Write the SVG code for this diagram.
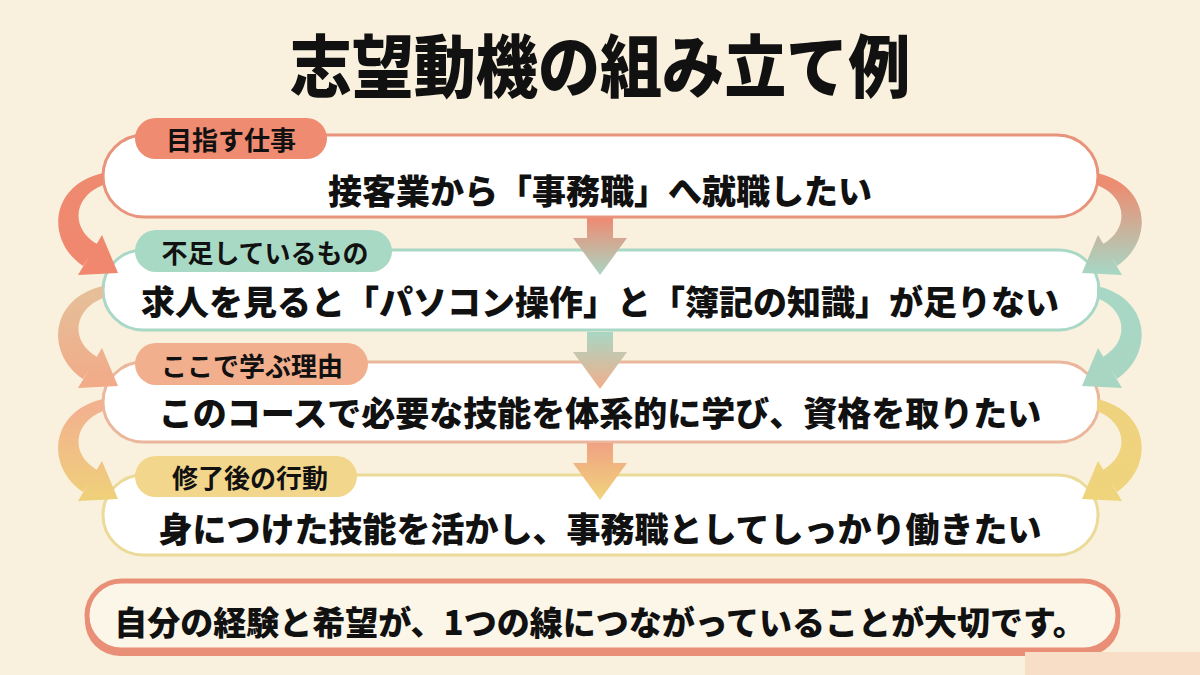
<svg xmlns="http://www.w3.org/2000/svg" width="1200" height="675" viewBox="0 0 1200 675">
<defs>
<style>
text{font-family:"Noto Sans CJK JP","Noto Sans",sans-serif;fill:#111;font-weight:700;dominant-baseline:central}
.title{font-size:64px;font-weight:900;text-anchor:middle}
.main{font-size:34px;font-weight:900;text-anchor:middle}
.lab{font-size:26px;text-anchor:middle}
.foot{font-size:33px;font-weight:900;text-anchor:middle}
.box{fill:#FFFFFF;stroke-width:3}
</style>
<linearGradient id="gC1" gradientUnits="userSpaceOnUse" x1="0" y1="0" x2="0" y2="57"><stop offset="0" stop-color="#EF8A72"/><stop offset="1" stop-color="#A8D6C3"/></linearGradient>
<linearGradient id="gC2" gradientUnits="userSpaceOnUse" x1="0" y1="0" x2="0" y2="57"><stop offset="0" stop-color="#A8D6C3"/><stop offset="1" stop-color="#F1AE8A"/></linearGradient>
<linearGradient id="gC3" gradientUnits="userSpaceOnUse" x1="0" y1="0" x2="0" y2="57"><stop offset="0" stop-color="#F0A283"/><stop offset="1" stop-color="#F0D47C"/></linearGradient>
<linearGradient id="gR1" gradientUnits="userSpaceOnUse" x1="0" y1="185" x2="0" y2="272"><stop offset="0" stop-color="#EC8D72"/><stop offset="1" stop-color="#A8D6C3"/></linearGradient>
<linearGradient id="gR2" gradientUnits="userSpaceOnUse" x1="0" y1="185" x2="0" y2="272"><stop offset="0" stop-color="#A9D7C5"/><stop offset="1" stop-color="#A8D6C3"/></linearGradient>
<linearGradient id="gR3" gradientUnits="userSpaceOnUse" x1="0" y1="185" x2="0" y2="272"><stop offset="0" stop-color="#EFD27E"/><stop offset="1" stop-color="#EFD47C"/></linearGradient>
<linearGradient id="gL1" gradientUnits="userSpaceOnUse" x1="0" y1="185" x2="0" y2="272"><stop offset="0" stop-color="#EE8A70"/><stop offset="1" stop-color="#F0876E"/></linearGradient>
<linearGradient id="gL2" gradientUnits="userSpaceOnUse" x1="0" y1="185" x2="0" y2="272"><stop offset="0" stop-color="#E6BE98"/><stop offset="1" stop-color="#F2AA88"/></linearGradient>
<linearGradient id="gL3" gradientUnits="userSpaceOnUse" x1="0" y1="185" x2="0" y2="272"><stop offset="0" stop-color="#F2B28E"/><stop offset="1" stop-color="#EFD07A"/></linearGradient>
<path id="rArrow" d="M1097,173 C1150,185 1155,240 1117,266 L1103,244 C1130,228 1127,197 1097,185 Z M1098,235 L1122,275 L1082,273 Z"/>
<path id="lArrow" d="M103,173 C50,185 45,240 83,266 L97,244 C70,228 73,197 103,185 Z M102,235 L78,275 L118,273 Z"/>
<path id="cArrow" d="M587,0 L613,0 L613,20 L627,20 L600,57 L573,20 L587,20 Z"/>
</defs>
<rect width="1200" height="675" fill="#F9F1DE"/>
<text class="title" x="600" y="63" transform="translate(600,63) scale(0.97,1.06) translate(-600,-63)">志望動機の組み立て例</text>

<g id="node1">
<rect class="box" x="103" y="135" width="995" height="82" rx="41" stroke="#E8937C"/>
<rect x="135" y="118" width="192" height="41" rx="20.5" fill="#EE8B71"/>
<text class="lab" x="231" y="138">目指す仕事</text>
<text class="main" x="600" y="189">接客業から「事務職」へ就職したい</text>
</g>
<g id="node2">
<rect class="box" x="103" y="250" width="996" height="80" rx="40" stroke="#A9D8C6"/>
<rect x="135" y="230" width="257" height="42" rx="21" fill="#A8D9C4"/>
<text class="lab" x="265" y="251">不足しているもの</text>
<text class="main" x="600" y="300">求人を見ると「パソコン操作」と「簿記の知識」が足りない</text>
</g>
<g id="node3">
<rect class="box" x="103" y="362" width="996" height="80" rx="40" stroke="#EAB79C"/>
<rect x="135" y="343" width="233" height="42" rx="21" fill="#F2AF8D"/>
<text class="lab" x="252" y="364">ここで学ぶ理由</text>
<text class="main" x="600" y="411">このコースで必要な技能を体系的に学び、資格を取りたい</text>
</g>
<g id="node4">
<rect class="box" x="103" y="475" width="995" height="80" rx="40" stroke="#EBDA98"/>
<rect x="135" y="456" width="222" height="41" rx="20.5" fill="#F1D68B"/>
<text class="lab" x="250" y="476">修了後の行動</text>
<text class="main" x="600" y="527">身につけた技能を活かし、事務職としてしっかり働きたい</text>
</g>
<g id="node5">
<rect x="85" y="586" width="1035" height="70" rx="35" fill="#E98F78"/>
<rect x="87" y="581" width="1031" height="69" rx="34.5" fill="#FCF6E8" stroke="#E98F78" stroke-width="5"/>
<text class="foot" x="600" y="621">自分の経験と希望が、1つの線につながっていることが大切です。</text>
</g>

<g id="connectors">
<use href="#cArrow" transform="translate(0,218)" fill="url(#gC1)"/>
<use href="#cArrow" transform="translate(0,332)" fill="url(#gC2)"/>
<use href="#cArrow" transform="translate(0,443)" fill="url(#gC3)"/>
<use href="#rArrow" fill="url(#gR1)"/>
<use href="#rArrow" transform="translate(0,113)" fill="url(#gR2)"/>
<use href="#rArrow" transform="translate(0,226)" fill="url(#gR3)"/>
<use href="#lArrow" fill="url(#gL1)"/>
<use href="#lArrow" transform="translate(0,113)" fill="url(#gL2)"/>
<use href="#lArrow" transform="translate(0,226)" fill="url(#gL3)"/>
</g>
<rect x="1025" y="652" width="175" height="23" fill="#F8DEC6"/>
</svg>
